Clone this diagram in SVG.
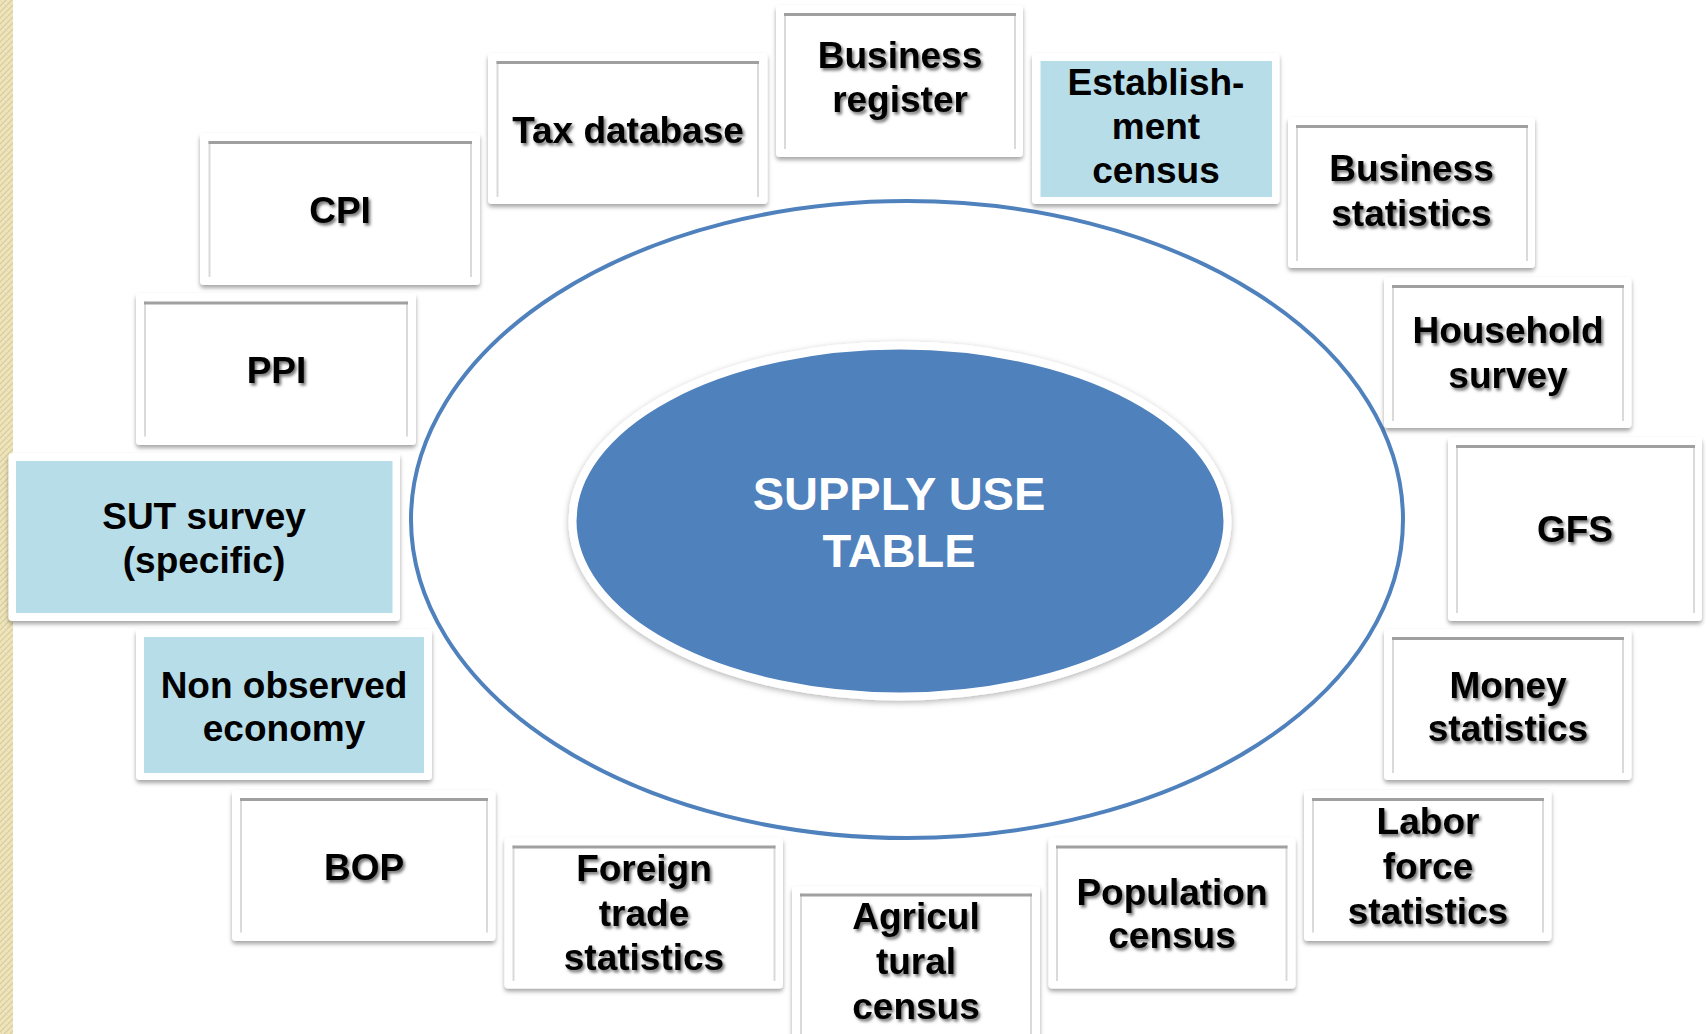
<svg xmlns="http://www.w3.org/2000/svg" width="1708" height="1034" viewBox="0 0 1708 1034">
<defs>
  <pattern id="weave" width="6" height="6" patternUnits="userSpaceOnUse">
    <rect width="6" height="6" fill="#eee5c0"/>
    <path d="M0 6 L6 0 M-1 1 L1 -1 M5 7 L7 5" stroke="#d8cb96" stroke-width="1.2"/>
    <path d="M0 0 L6 6" stroke="#e4d9aa" stroke-width="0.8"/>
  </pattern>
  <filter id="boxsh" x="-5%" y="-5%" width="110%" height="115%">
    <feDropShadow dx="0" dy="3" stdDeviation="2" flood-color="#000" flood-opacity="0.35"/>
  </filter>
  <filter id="txtsh" x="-5%" y="-20%" width="115%" height="150%">
    <feDropShadow dx="2" dy="2.5" stdDeviation="1.6" flood-color="#000" flood-opacity="0.55"/>
  </filter>
  <filter id="ellsh" x="-5%" y="-5%" width="110%" height="115%">
    <feDropShadow dx="0" dy="2" stdDeviation="3" flood-color="#000" flood-opacity="0.3"/>
  </filter>
</defs>
<style>
  .frame { fill:#ffffff; filter:url(#boxsh); }
  .inner { fill:#ffffff; }
  .blue { fill:#b7dde8; }
  .et { stroke:#a0a0a0; stroke-width:3; fill:none; }
  .es { stroke:#dadada; stroke-width:2; fill:none; }
  .lbl { font-family:"Liberation Sans", Arial, sans-serif; font-weight:bold; font-size:37px; text-anchor:middle; fill:#000000; }
  .shd { filter:url(#txtsh); }
  .ctr { font-family:"Liberation Sans", Arial, sans-serif; font-weight:bold; font-size:47px; text-anchor:middle; fill:#ffffff; }
</style>

<rect x="0" y="0" width="1708" height="1034" fill="#ffffff"/>
<rect id="strip" x="0" y="0" width="13" height="1034" fill="url(#weave)"/>

<g id="outer-ring">
  <ellipse cx="907" cy="519.5" rx="496" ry="318.5" fill="none" stroke="#4f81bd" stroke-width="4"/>
</g>

<g id="supply-use-table">
  <ellipse cx="900" cy="521" rx="327.5" ry="175.5" fill="#4f81bd" stroke="#ffffff" stroke-width="8" filter="url(#ellsh)"/>
  <text class="ctr" x="899" y="510">SUPPLY USE</text>
  <text class="ctr" x="899" y="567">TABLE</text>
</g>

<g id="connectors"></g>

<g id="cpi">
  <rect class="frame" x="200" y="133" width="280" height="152" rx="4"/>
  <rect class="inner" x="208.5" y="141" width="263.5" height="136"/>
  <path class="es" d="M209.5 141 V277 M471 141 V277"/>
  <path class="et" d="M208.5 142.5 H472"/>
  <text class="lbl shd" x="340" y="223">CPI</text>
</g>

<g id="tax-database">
  <rect class="frame" x="488" y="53" width="279.5" height="151" rx="4"/>
  <rect class="inner" x="496.5" y="61" width="262.5" height="136"/>
  <path class="es" d="M497.5 61 V197 M758 61 V197"/>
  <path class="et" d="M496.5 62.5 H759"/>
  <text class="lbl shd" x="628" y="143">Tax database</text>
</g>

<g id="business-register">
  <rect class="frame" x="776" y="5" width="247" height="152" rx="4"/>
  <rect class="inner" x="784" y="13" width="232" height="136"/>
  <path class="es" d="M785 13 V149 M1015 13 V149"/>
  <path class="et" d="M784 14.5 H1016"/>
  <text class="lbl shd" x="900" y="68">Business</text>
  <text class="lbl shd" x="900" y="111.5">register</text>
</g>

<g id="establishment-census">
  <rect class="frame" x="1032" y="53" width="247.5" height="151" rx="4"/>
  <rect class="blue" x="1040.5" y="61" width="231.5" height="136"/>
  <text class="lbl" x="1156" y="95">Establish-</text>
  <text class="lbl" x="1156" y="139">ment</text>
  <text class="lbl" x="1156" y="183">census</text>
</g>

<g id="business-statistics">
  <rect class="frame" x="1288" y="117" width="247" height="151" rx="4"/>
  <rect class="inner" x="1296" y="125" width="232" height="136"/>
  <path class="es" d="M1297 125 V261 M1527 125 V261"/>
  <path class="et" d="M1296 126.5 H1528"/>
  <text class="lbl shd" x="1411.5" y="181">Business</text>
  <text class="lbl shd" x="1411.5" y="226">statistics</text>
</g>

<g id="household-survey">
  <rect class="frame" x="1384" y="277" width="247.5" height="151" rx="4"/>
  <rect class="inner" x="1392" y="285" width="232" height="136"/>
  <path class="es" d="M1393 285 V421 M1623 285 V421"/>
  <path class="et" d="M1392 286.5 H1624"/>
  <text class="lbl shd" x="1508" y="343">Household</text>
  <text class="lbl shd" x="1508" y="388">survey</text>
</g>

<g id="gfs">
  <rect class="frame" x="1448" y="437" width="254" height="184" rx="4"/>
  <rect class="inner" x="1456" y="445" width="239" height="168"/>
  <path class="es" d="M1457 445 V613 M1694 445 V613"/>
  <path class="et" d="M1456 446.5 H1695"/>
  <text class="lbl shd" x="1575" y="542">GFS</text>
</g>

<g id="money-statistics">
  <rect class="frame" x="1384" y="629" width="247.5" height="151" rx="4"/>
  <rect class="inner" x="1392" y="637" width="232" height="136"/>
  <path class="es" d="M1393 637 V773 M1623 637 V773"/>
  <path class="et" d="M1392 638.5 H1624"/>
  <text class="lbl shd" x="1508" y="697.5">Money</text>
  <text class="lbl shd" x="1508" y="741">statistics</text>
</g>

<g id="labor-force-statistics">
  <rect class="frame" x="1304" y="790" width="247.5" height="151" rx="4"/>
  <rect class="inner" x="1312" y="798" width="232" height="134.5"/>
  <path class="es" d="M1313 798 V932.5 M1543 798 V932.5"/>
  <path class="et" d="M1312 799.5 H1544"/>
  <text class="lbl shd" x="1428" y="834">Labor</text>
  <text class="lbl shd" x="1428" y="879">force</text>
  <text class="lbl shd" x="1428" y="924">statistics</text>
</g>

<g id="population-census">
  <rect class="frame" x="1048.5" y="837.5" width="247" height="151" rx="4"/>
  <rect class="inner" x="1056" y="845.5" width="231.5" height="135.5"/>
  <path class="es" d="M1057 845.5 V981 M1286.5 845.5 V981"/>
  <path class="et" d="M1056 847 H1287.5"/>
  <text class="lbl shd" x="1172" y="905">Population</text>
  <text class="lbl shd" x="1172" y="947.5">census</text>
</g>

<g id="agricultural-census">
  <rect class="frame" x="792" y="886" width="248" height="170" rx="4"/>
  <rect class="inner" x="800" y="893.5" width="232" height="160"/>
  <path class="es" d="M801 893.5 V1034 M1031 893.5 V1034"/>
  <path class="et" d="M800 895 H1032"/>
  <text class="lbl shd" x="916" y="928.5">Agricul</text>
  <text class="lbl shd" x="916" y="974">tural</text>
  <text class="lbl shd" x="916" y="1018.5">census</text>
</g>

<g id="foreign-trade-statistics">
  <rect class="frame" x="504.5" y="837.5" width="278.5" height="151" rx="4"/>
  <rect class="inner" x="512.5" y="845.5" width="263" height="135.5"/>
  <path class="es" d="M513.5 845.5 V981 M774.5 845.5 V981"/>
  <path class="et" d="M512.5 847 H775.5"/>
  <text class="lbl shd" x="644" y="881">Foreign</text>
  <text class="lbl shd" x="644" y="926">trade</text>
  <text class="lbl shd" x="644" y="970">statistics</text>
</g>

<g id="bop">
  <rect class="frame" x="232" y="790" width="263.5" height="151" rx="4"/>
  <rect class="inner" x="240" y="798" width="248" height="134.5"/>
  <path class="es" d="M241 798 V932.5 M487 798 V932.5"/>
  <path class="et" d="M240 799.5 H488"/>
  <text class="lbl shd" x="364" y="879.5">BOP</text>
</g>

<g id="non-observed-economy">
  <rect class="frame" x="136" y="629" width="296" height="151" rx="4"/>
  <rect class="blue" x="144" y="637" width="280" height="136"/>
  <text class="lbl" x="284" y="697.5">Non observed</text>
  <text class="lbl" x="284" y="741">economy</text>
</g>

<g id="sut-survey">
  <rect class="frame" x="8.5" y="453" width="391.5" height="168" rx="4"/>
  <rect class="blue" x="16" y="461" width="376.5" height="152"/>
  <text class="lbl" x="204" y="529">SUT survey</text>
  <text class="lbl" x="204" y="572.5">(specific)</text>
</g>

<g id="ppi">
  <rect class="frame" x="136" y="293" width="280" height="152" rx="4"/>
  <rect class="inner" x="144" y="301.5" width="264" height="135"/>
  <path class="es" d="M145 301.5 V436.5 M407 301.5 V436.5"/>
  <path class="et" d="M144 303 H408"/>
  <text class="lbl shd" x="276.5" y="383">PPI</text>
</g>
</svg>
